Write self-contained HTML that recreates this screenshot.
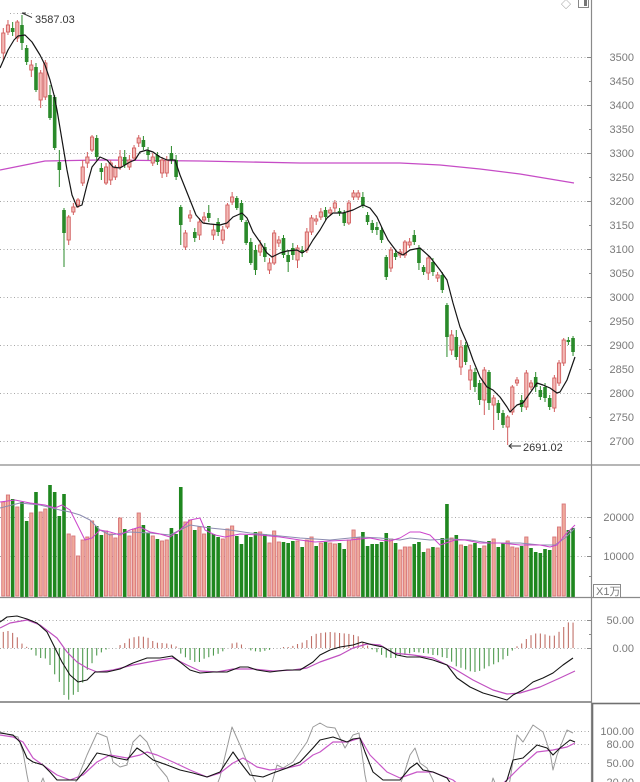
<!DOCTYPE html>
<html><head><meta charset="utf-8">
<style>
html,body{margin:0;padding:0;background:#fff;}
svg{display:block;}
text{font-family:"Liberation Sans","Noto Sans CJK SC",sans-serif;font-size:11px;fill:#7a7a7a;}
</style></head><body>
<svg id="c" width="640" height="782" viewBox="0 0 640 782" xmlns="http://www.w3.org/2000/svg">
<defs>
<clipPath id="cp1"><rect x="0" y="0" width="591" height="464"/></clipPath>
<clipPath id="cp3"><rect x="0" y="599" width="591" height="102"/></clipPath>
<clipPath id="cp4"><rect x="0" y="704" width="591" height="80"/></clipPath>
</defs>
<rect width="640" height="782" fill="#fff"/>
<g stroke="#a8a8a8" stroke-width="1" stroke-dasharray="1,2.5">
<line x1="0" y1="57.5" x2="590" y2="57.5"/>
<line x1="0" y1="105.5" x2="590" y2="105.5"/>
<line x1="0" y1="153.5" x2="590" y2="153.5"/>
<line x1="0" y1="201.5" x2="590" y2="201.5"/>
<line x1="0" y1="249.5" x2="590" y2="249.5"/>
<line x1="0" y1="297.5" x2="590" y2="297.5"/>
<line x1="0" y1="345.5" x2="590" y2="345.5"/>
<line x1="0" y1="393.5" x2="590" y2="393.5"/>
<line x1="0" y1="441.5" x2="590" y2="441.5"/>
<line x1="0" y1="517.5" x2="590" y2="517.5"/>
<line x1="0" y1="556.5" x2="590" y2="556.5"/>
<line x1="0" y1="620.5" x2="590" y2="620.5"/>
<line x1="0" y1="648.5" x2="590" y2="648.5"/>
<line x1="0" y1="731.5" x2="590" y2="731.5"/>
<line x1="0" y1="744.5" x2="590" y2="744.5"/>
<line x1="0" y1="763.5" x2="590" y2="763.5"/>
<line x1="10" y1="13.5" x2="32" y2="13.5"/>
</g>
<g id="g"></g>
<!-- frame lines -->
<line x1="591.5" y1="0" x2="591.5" y2="782" stroke="#8a8a8a" stroke-width="1.2"/>
<line x1="0" y1="465" x2="640" y2="465" stroke="#8a8a8a" stroke-width="1.2"/>
<line x1="0" y1="597.5" x2="640" y2="597.5" stroke="#8a8a8a" stroke-width="1.2"/>
<line x1="0" y1="702" x2="592" y2="702" stroke="#8a8a8a" stroke-width="1.8"/>
<rect x="592.5" y="703.5" width="60" height="100" fill="none" stroke="#707070" stroke-width="1.6"/>
<rect x="593.5" y="584.5" width="27" height="13" fill="#fff" stroke="#8a8a8a" stroke-width="1"/>
<text x="596" y="595" style="font-size:11px">X1万</text>
<!-- ticks -->
<g stroke="#8a8a8a" stroke-width="1">
<line x1="587" y1="57.5" x2="592" y2="57.5"/><line x1="589" y1="81.5" x2="592" y2="81.5"/>
<line x1="587" y1="105.5" x2="592" y2="105.5"/><line x1="589" y1="129.5" x2="592" y2="129.5"/>
<line x1="587" y1="153.5" x2="592" y2="153.5"/><line x1="589" y1="177.5" x2="592" y2="177.5"/>
<line x1="587" y1="201.5" x2="592" y2="201.5"/><line x1="589" y1="225.5" x2="592" y2="225.5"/>
<line x1="587" y1="249.5" x2="592" y2="249.5"/><line x1="589" y1="273.5" x2="592" y2="273.5"/>
<line x1="587" y1="297.5" x2="592" y2="297.5"/><line x1="589" y1="321.5" x2="592" y2="321.5"/>
<line x1="587" y1="345.5" x2="592" y2="345.5"/><line x1="589" y1="369.5" x2="592" y2="369.5"/>
<line x1="587" y1="393.5" x2="592" y2="393.5"/><line x1="589" y1="417.5" x2="592" y2="417.5"/>
<line x1="587" y1="441.5" x2="592" y2="441.5"/>
<line x1="587" y1="517.5" x2="592" y2="517.5"/><line x1="589" y1="537.5" x2="592" y2="537.5"/>
<line x1="587" y1="556.5" x2="592" y2="556.5"/><line x1="589" y1="576.5" x2="592" y2="576.5"/>
<line x1="587" y1="620.5" x2="592" y2="620.5"/><line x1="589" y1="634.5" x2="592" y2="634.5"/>
<line x1="587" y1="648.5" x2="592" y2="648.5"/>
</g>
<!-- axis labels -->
<g text-anchor="end">
<text x="634" y="61">3500</text>
<text x="634" y="85">3450</text>
<text x="634" y="109">3400</text>
<text x="634" y="133">3350</text>
<text x="634" y="157">3300</text>
<text x="634" y="181">3250</text>
<text x="634" y="205">3200</text>
<text x="634" y="229">3150</text>
<text x="634" y="253">3100</text>
<text x="634" y="277">3050</text>
<text x="634" y="301">3000</text>
<text x="634" y="325">2950</text>
<text x="634" y="349">2900</text>
<text x="634" y="373">2850</text>
<text x="634" y="397">2800</text>
<text x="634" y="421">2750</text>
<text x="634" y="445">2700</text>
<text x="634" y="521">20000</text>
<text x="634" y="560">10000</text>
<text x="634" y="624">50.00</text>
<text x="634" y="652">0.00</text>
<text x="634" y="735">100.00</text>
<text x="634" y="748">80.00</text>
<text x="634" y="767">50.00</text>
<text x="634" y="786">20.00</text>
</g>
<!-- top icons -->
<text x="561" y="8" style="font-size:10px;fill:#888">◇</text>
<rect x="578.5" y="-1.5" width="10" height="9" fill="#fff" stroke="#888" stroke-width="1"/>
<rect x="584" y="0" width="3" height="6" fill="#777"/>
<!-- max / min labels -->
<line x1="22" y1="13" x2="32" y2="17.5" stroke="#333" stroke-width="1"/>
<line x1="22" y1="13" x2="26" y2="13" stroke="#333" stroke-width="1"/>
<text x="35" y="23" style="fill:#333">3587.03</text>
<line x1="509" y1="446" x2="521" y2="446" stroke="#333" stroke-width="1"/>
<polyline points="512,443.5 509,446 512,448.5" fill="none" stroke="#333" stroke-width="1"/>
<text x="523" y="451" style="fill:#333">2691.02</text>
</svg>
<script>
(function(){
var C=[
['r',33,53,28,60],['r',25,32,20,35],['g',28,32,22,36],['r',22,38,20,42],['g',25,43,15,50],
['g',48,62,45,65],['r',65,70,60,77],['g',67,90,63,92],['r',73,100,70,108],['r',63,97,60,100],
['g',95,118,85,120],['g',97,148,95,150],['g',162,170,150,187],['g',210,233,208,267],['r',217,240,215,245],
['r',207,212,203,215],['r',200,205,198,208],['r',167,183,160,186],['r',157,163,152,168],['r',137,150,135,152],
['g',138,157,135,160],['g',168,172,163,180],['r',167,183,163,185],['r',163,180,160,185],['r',168,177,165,180],
['r',157,167,150,170],['g',157,165,150,168],['r',160,167,155,170],['r',148,158,145,160],['r',138,143,135,147],
['g',140,147,136,150],['g',151,155,147,160],['r',157,163,153,166],['g',155,162,152,165],['r',160,173,157,178],
['r',160,173,156,177],['g',153,160,146,164],['g',160,177,155,180],['g',207,225,205,245],['r',233,247,230,250],
['r',215,218,210,222],['g',232,238,228,242],['r',222,235,218,240],['r',217,220,212,224],['g',213,218,205,222],
['r',230,235,225,240],['g',222,232,218,236],['r',230,240,226,244],['r',205,227,203,229],['r',197,202,192,205],
['g',198,208,196,210],['g',203,220,200,222],['g',222,243,220,245],['g',242,263,238,265],['g',250,270,245,275],
['r',245,252,240,256],['g',247,257,243,262],['r',263,270,258,274],['r',233,263,230,265],['r',240,243,236,247],
['g',238,255,235,258],['g',255,262,250,272],['g',248,255,243,260],['r',248,260,245,268],['g',250,253,246,257],
['r',232,250,228,253],['r',218,232,215,235],['r',219,221,215,225],['r',212,217,208,220],['g',210,217,207,220],
['r',210,213,207,216],['r',203,208,200,212],['g',211,213,208,216],['g',213,223,210,226],['r',203,223,200,225],
['r',193,197,190,200],['r',193,197,190,200],['g',197,205,192,208],['g',215,222,212,225],['g',223,230,220,233],
['g',227,230,222,235],['g',230,240,227,243],['g',257,277,255,280],['r',250,268,247,272],['g',253,257,250,260],
['r',252,255,249,258],['r',242,255,240,258],['r',242,245,238,248],['g',235,242,230,245],['g',248,263,245,270],
['g',267,272,265,275],['r',258,273,255,280],['g',262,272,258,276],['r',275,278,272,282],['g',275,290,272,293],
['g',305,337,303,357],['r',335,350,330,355],['g',337,357,330,360],['r',347,367,340,375],['g',345,362,342,365],
['r',370,380,365,390],['g',372,387,368,392],['g',383,400,380,405],['r',370,400,367,415],['g',372,403,370,410],
['r',398,405,395,430],['g',403,413,400,420],['g',413,425,410,428],['r',417,427,415,445],['r',387,412,385,415],
['r',380,383,377,386],['g',400,407,395,412],['r',373,407,370,410],['r',383,387,380,390],['g',377,387,372,392],
['g',390,397,386,400],['g',387,398,383,402],['g',398,407,395,410],['r',378,408,375,412],['r',363,383,360,386],
['r',340,363,338,366],['g',340,342,337,345],['g',338,352,336,356]
];
var V=[502,495,499,507,502,521,513,492,512,509,485,492,516,494,534,536,556,540,537,521,526,535,531,534,538,518,529,536,529,513,525,533,536,539,541,540,528,534,487,522,520,530,527,534,526,534,537,539,529,526,536,544,535,537,532,532,534,543,531,542,542,543,541,541,547,540,537,546,
543,542,543,544,543,549,540,530,538,532,546,544,544,542,533,539,543,550,547,547,544,542,552,549,547,548,538,504,538,535,545,546,545,543,548,546,541,539,547,543,541,547,548,546,537,548,552,553,549,550,537,527,504,530,528];
var VC="rrgrggrgrrggggrrrrrrggrrrrgrrrggrgrrgggrrgrrgggrrrgggggrgrrrgggrgrrg"+"rgrrggrrrggggggrgrrrgggrgrggrgrgrggrgrggrrrgrgggggrrrgg";
function X(i){return 3.3+4.67*i;}
var h='';
function pl(p,col,w,clip){var s='';for(var i=0;i<p.length;i++){s+=p[i][0]+','+p[i][1]+' ';}
 return '<polyline points="'+s+'" fill="none" stroke="'+col+'" stroke-width="'+w+'" stroke-linejoin="round"'+(clip?' clip-path="url(#'+clip+')"':'')+'/>';}
function interp(k,x){if(x<=k[0][0])return k[0][1];for(var i=1;i<k.length;i++){if(x<=k[i][0]){var a=k[i-1],b=k[i];return a[1]+(b[1]-a[1])*(x-a[0])/(b[0]-a[0]);}}return k[k.length-1][1];}
// long MA (magenta) in price panel
var MAL=[[0,170],[20,166],[45,161],[100,160],[200,161],[300,163],[400,163],[440,165],[480,169],[520,174],[550,179],[574,183]];
h+=pl(MAL,'#c64cc6',1.3,'cp1');
// candles
var RC='#d25e5e',RF='#f3b9b6',GC='#2a8a2a';
for(var i=0;i<C.length;i++){var c=C[i],x=X(i).toFixed(2),col=c[0]=='r'?RC:GC;
 h+='<line x1="'+x+'" y1="'+c[3]+'" x2="'+x+'" y2="'+c[4]+'" stroke="'+col+'" stroke-width="1"/>';
 var t=c[1],b=Math.max(c[2],c[1]+1.5);
 if(c[0]=='r')h+='<rect x="'+(X(i)-1.6).toFixed(2)+'" y="'+t+'" width="3.2" height="'+(b-t)+'" fill="'+RF+'" stroke="'+RC+'" stroke-width="0.9"/>';
 else h+='<rect x="'+(X(i)-1.8).toFixed(2)+'" y="'+t+'" width="3.6" height="'+(b-t)+'" fill="'+GC+'"/>';
}
// short MA (black)
var MA=[[0,68],[8,50],[14,40],[18,36],[25,35],[32,42],[40,55],[45,65],[50,80],[54,95],[57,110],[62,140],[67,170],[72,195],[77,207],[82,205],[87,185],[92,167],[100,157],[107,160],[113,167],[120,168],[125,165],[130,162],[135,160],[140,152],[147,150],[153,152],[160,157],[167,160],[175,160],[180,175],[190,200],[196,215],[203,223],[210,224],[220,225],[227,223],[233,217],[242,213],[247,218],[253,232],[260,242],[267,253],[272,257],[280,253],[287,251],[297,250],[302,253],[307,250],[313,240],[320,230],[327,218],[333,213],[343,213],[353,210],[363,205],[370,208],[377,217],[383,230],[388,240],[397,252],[403,255],[410,250],[420,248],[430,257],[440,270],[447,280],[453,303],[460,327],[467,343],[473,360],[480,377],[487,387],[493,390],[500,397],[507,407],[510,412],[517,405],[523,403],[530,393],[537,383],[543,385],[550,388],[557,393],[560,392],[567,380],[575,357]];
h+=pl(MA,'#151515',1.2,'cp1');
// volume bars
for(var i=0;i<V.length;i++){var x=X(i),t=V[i];
 if(VC[i]=='r')h+='<rect x="'+(x-1.6).toFixed(2)+'" y="'+t+'" width="3.2" height="'+(596-t)+'" fill="#efaa9c" stroke="#d8767a" stroke-width="0.9"/>';
 else h+='<rect x="'+(x-1.8).toFixed(2)+'" y="'+t+'" width="3.6" height="'+(597-t)+'" fill="#1f871f"/>';
}
var VM1=[[0,502],[15,500],[30,503],[45,505],[55,508],[62,505],[70,510],[75,520],[80,530],[85,540],[92,538],[100,530],[110,532],[120,535],[130,530],[140,527],[150,532],[160,534],[170,537],[180,530],[190,520],[195,519],[200,518],[205,530],[215,535],[225,537],[240,534],[260,535],[280,537],[300,540],[315,542],[330,541],[350,540],[370,538],[380,540],[390,541],[400,538],[410,532],[420,532],[430,535],[440,545],[455,540],[465,540],[480,543],[500,543],[520,545],[540,545],[550,547],[557,545],[565,535],[575,525]];
var VM2=[[0,508],[20,503],[40,505],[60,510],[70,512],[80,515],[90,520],[100,530],[110,535],[130,532],[150,533],[170,535],[190,525],[210,528],[230,530],[250,533],[270,535],[300,538],[330,540],[360,537],[380,538],[400,540],[410,538],[430,540],[450,539],[470,540],[490,543],[520,543],[540,545],[555,545],[565,538],[575,528]];
h+=pl(VM2,'#8c8cb0',1,null);
h+=pl(VM1,'#cc44cc',1,null);
// MACD histogram
var MH=[[3,632],[8,631],[13,633],[18,638],[23,645],[27,647],[30,648],[35,655],[40,658],[45,658],[50,665],[55,675],[60,683],[64,695],[69,700],[73,695],[78,692],[83,682],[88,668],[93,662],[97,655],[102,652],[107,649],[112,648],[117,647],[120,645],[125,643],[130,638],[135,637],[140,636],[145,637],[149,638],[154,642],[159,643],[164,643],[169,644],[174,645],[177,647],[180,653],[185,657],[190,660],[195,662],[200,662],[205,658],[210,657],[215,655],[220,653],[225,650],[230,645],[234,642],[239,643],[244,646],[249,650],[254,651],[259,652],[264,651],[269,650],[275,648],[280,647],[290,647],[295,645],[300,643],[305,642],[310,637],[315,634],[320,633],[330,632],[340,633],[350,634],[358,636],[363,642],[368,646],[373,650],[380,654],[387,658],[392,658],[397,658],[402,655],[407,655],[412,652],[417,652],[422,653],[427,653],[432,655],[437,655],[442,657],[447,658],[452,662],[457,667],[462,668],[467,670],[472,672],[477,672],[482,670],[487,667],[492,665],[497,663],[502,660],[507,657],[510,652],[515,649],[518,645],[523,643],[528,637],[533,634],[538,633],[543,634],[548,635],[553,637],[557,633],[562,630],[566,623],[570,622],[575,623]];
for(var i=0;i<C.length;i++){var x=X(i),y=interp(MH,x);
 if(Math.abs(y-648)<0.8)continue;
 h+='<line x1="'+x.toFixed(2)+'" y1="648" x2="'+x.toFixed(2)+'" y2="'+y.toFixed(1)+'" stroke="'+(y<648?'#c07068':'#4f9a4f')+'" stroke-width="1.1"/>';
}
var DIF=[[0,622],[7,617],[17,616],[27,619],[37,623],[47,632],[55,648],[62,662],[70,675],[78,682],[87,680],[95,672],[107,672],[120,669],[133,663],[147,658],[160,658],[172,656],[180,662],[190,670],[200,673],[213,672],[227,672],[240,667],[248,667],[257,670],[270,672],[287,670],[300,670],[313,662],[320,655],[330,650],[340,647],[353,645],[362,642],[373,645],[383,647],[397,655],[407,657],[420,657],[433,660],[447,665],[457,678],[470,687],[483,693],[497,697],[507,700],[513,695],[523,690],[533,682],[543,678],[553,673],[563,665],[573,658]];
var DEA=[[0,628],[10,623],[27,620],[40,625],[57,638],[67,652],[77,662],[87,668],[97,672],[113,670],[133,665],[160,660],[173,658],[187,665],[200,671],[217,672],[233,669],[253,669],[273,671],[293,670],[307,668],[320,662],[340,655],[353,648],[367,644],[380,645],[393,653],[413,655],[433,658],[453,668],[473,680],[493,690],[507,694],[520,693],[540,687],[560,678],[575,671]];
h+=pl(DEA,'#c050c0',1.2,'cp3');
h+=pl(DIF,'#151515',1.1,'cp3');
// KDJ
var J=[[0,732],[10,735],[18,737],[23,752],[27,775],[30,790],[38,790],[43,778],[47,790],[70,790],[77,780],[87,755],[97,733],[107,737],[113,762],[120,767],[127,765],[133,742],[140,735],[147,742],[157,765],[167,777],[172,790],[215,790],[220,777],[232,727],[240,745],[247,762],[253,777],[260,790],[270,790],[277,765],[283,768],[293,762],[307,742],[313,727],[320,723],[327,727],[335,728],[345,748],[353,735],[359,733],[365,775],[368,790],[398,790],[403,777],[410,755],[415,748],[420,763],[427,768],[433,780],[436,790],[490,790],[493,778],[498,790],[508,790],[510,780],[517,735],[523,742],[533,725],[543,732],[550,752],[553,770],[557,755],[567,730],[573,733]];
var K=[[0,733],[13,735],[20,742],[27,758],[33,762],[43,765],[50,772],[57,780],[77,780],[87,768],[97,753],[107,755],[117,758],[127,760],[137,748],[143,752],[153,760],[167,765],[180,770],[193,773],[207,777],[220,772],[233,752],[240,762],[250,775],[263,777],[273,773],[287,768],[300,762],[313,748],[320,740],[333,737],[347,742],[353,739],[360,738],[365,752],[373,772],[383,780],[400,780],[410,768],[417,763],[423,770],[433,772],[447,778],[455,790],[500,790],[507,780],[513,760],[523,758],[537,745],[547,748],[553,755],[560,748],[570,740],[575,742]];
var D=[[0,735],[13,737],[23,742],[33,758],[47,768],[57,775],[70,780],[83,775],[97,762],[110,755],[127,758],[140,755],[147,752],[157,755],[173,762],[190,770],[207,777],[220,773],[233,763],[243,758],[257,767],[270,770],[287,768],[300,765],[313,755],[320,752],[333,742],[347,742],[360,738],[370,755],[387,772],[400,778],[417,772],[433,772],[453,780],[465,790],[495,790],[507,780],[520,767],[537,752],[553,750],[567,747],[575,743]];
h+=pl(J,'#9a9a9a',1,'cp4');
h+=pl(D,'#c858c8',1.2,'cp4');
h+=pl(K,'#151515',1.1,'cp4');
document.getElementById('g').innerHTML=h;
})();
</script>
</body></html>
